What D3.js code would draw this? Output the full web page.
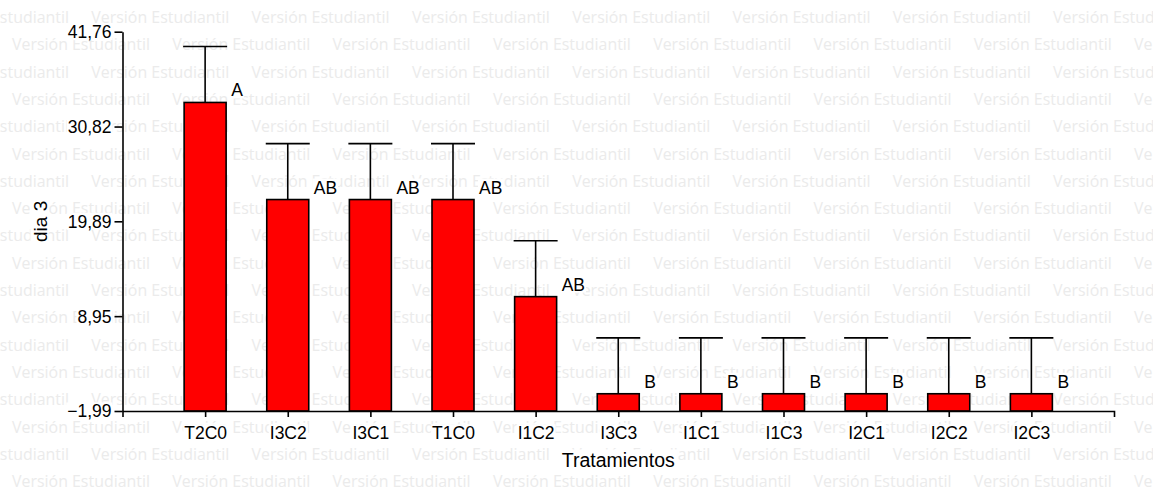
<!DOCTYPE html>
<html>
<head>
<meta charset="utf-8">
<script src="https://cdn.jsdelivr.net/npm/d3@7"></script>
<style>
  body { margin: 0; background: #fff; }
  svg { display: block; }
</style>
</head>
<body>
<svg id="chart" width="1153" height="490"></svg>
<script>
// Treatments, means, standard errors and significance letters
const tratamientos = ["T2C0", "I3C2", "I3C1", "T1C0", "I1C2", "I3C3", "I1C1", "I1C3", "I2C1", "I2C2", "I2C3"];
const medias = [33.6, 22.4, 22.4, 22.4, 11.2, 0, 0, 0, 0, 0, 0];
const errores = [6.45, 6.45, 6.45, 6.45, 6.45, 6.45, 6.45, 6.45, 6.45, 6.45, 6.45];
const letras = ["A", "AB", "AB", "AB", "AB", "B", "B", "B", "B", "B", "B"];
const yTicks = [-1.99, 8.95, 19.89, 30.82, 41.76];
const ejeX = "Tratamientos";
const ejeY = "dia 3";
const marcaAgua = "Versión Estudiantil";

const W = 1153, H = 490;
const plotL = 122.5, plotR = 1114, plotT = 31.7, plotB = 411;
const font = "'Liberation Sans', Arial, sans-serif";
const ink = "#000";
const lw = 1.6;

const svg = d3.select("#chart");
svg.append("rect").attr("width", W).attr("height", H).attr("fill", "#fff");

// Repeated watermark lines in the background
const wm = svg.append("g").attr("class", "watermark");
const rowStep = 27.3, colStep = 160.3;
for (let k = 0; k < 18; k++) {
  const y0 = 23 + k * rowStep;
  const x0 = (k % 2 === 0) ? -69 : 12;
  for (let n = -1; n < 9; n++) {
    wm.append("text")
      .attr("x", x0 + n * colStep)
      .attr("y", y0)
      .attr("font-family", "'Open Sans', 'DejaVu Sans', sans-serif")
      .attr("font-size", 15.5)
      .attr("textLength", 138)
      .attr("lengthAdjust", "spacingAndGlyphs")
      .attr("fill", "#ebebeb")
      .text(marcaAgua);
  }
}

const x = d3.scalePoint().domain(tratamientos).range([plotL, plotR]).padding(1);
const y = d3.scaleLinear().domain([yTicks[0], yTicks[yTicks.length - 1]]).range([plotB, plotT]);

const data = tratamientos.map((t, i) => ({ t, m: medias[i], e: errores[i], l: letras[i] }));
const barW = 42;

// Bars
svg.append("g").selectAll("rect").data(data).join("rect")
  .attr("x", d => x(d.t) - barW / 2)
  .attr("y", d => y(d.m))
  .attr("width", barW)
  .attr("height", d => y(yTicks[0]) - y(d.m))
  .attr("fill", "#ff0000")
  .attr("stroke", ink)
  .attr("stroke-width", lw);

// Upper error bars
const eb = svg.append("g").attr("stroke", ink).attr("stroke-width", lw);
eb.selectAll("line.v").data(data).join("line").attr("class", "v")
  .attr("x1", d => x(d.t)).attr("x2", d => x(d.t))
  .attr("y1", d => y(d.m)).attr("y2", d => y(d.m + d.e));
eb.selectAll("line.c").data(data).join("line").attr("class", "c")
  .attr("x1", d => x(d.t) - 22).attr("x2", d => x(d.t) + 22)
  .attr("y1", d => y(d.m + d.e)).attr("y2", d => y(d.m + d.e));

// White box behind a text element
function boxBehind(node, pad) {
  const b = node.getBBox();
  const p = pad || 0;
  const r = d3.select(node.parentNode).insert("rect", () => node)
    .attr("x", b.x - p).attr("y", b.y + 1)
    .attr("width", b.width + 2 * p).attr("height", b.height - 3)
    .attr("fill", "#fff");
  const tf = node.getAttribute("transform");
  if (tf) r.attr("transform", tf);
}

// Axes
const fmt = v => d3.format(".2f")(v).replace(".", ",");
const gy = svg.append("g").attr("transform", `translate(${plotL},0)`)
  .call(d3.axisLeft(y).tickValues(yTicks).tickFormat(fmt).tickSize(8).tickSizeOuter(0).tickPadding(3));
const gx = svg.append("g").attr("transform", `translate(0,${plotB})`)
  .call(d3.axisBottom(x).tickSize(6).tickSizeOuter(6).tickPadding(10));

[gy, gx].forEach(g => {
  g.selectAll("path, line").attr("stroke", ink).attr("stroke-width", lw);
  g.selectAll("text").attr("font-family", font).attr("font-size", 17.5).attr("fill", ink);
});
gy.selectAll("text").attr("dy", "0.34em");
gx.selectAll("text").attr("dy", "0.7em");
gy.selectAll("text").each(function () { boxBehind(this, 1); });
gx.selectAll("text").each(function () { boxBehind(this, 1); });

// Significance letters
const lab = svg.append("g");
lab.selectAll("text").data(data).join("text")
  .attr("x", d => x(d.t) + barW / 2 + 5)
  .attr("y", d => y(d.m) - 6)
  .attr("font-family", font).attr("font-size", 17.5).attr("fill", ink)
  .text(d => d.l)
  .each(function () { boxBehind(this, 1); });

// Axis titles
const tx = svg.append("text")
  .attr("x", (plotL + plotR) / 2).attr("y", 466.5)
  .attr("text-anchor", "middle")
  .attr("font-family", font).attr("font-size", 19.5).attr("fill", ink)
  .text(ejeX);
boxBehind(tx.node(), 2);

const ty = svg.append("text")
  .attr("transform", `translate(46.5,${(plotT + plotB) / 2}) rotate(-90)`)
  .attr("text-anchor", "middle")
  .attr("font-family", font).attr("font-size", 19).attr("fill", ink)
  .text(ejeY);
boxBehind(ty.node(), 2);
</script>
</body>
</html>
